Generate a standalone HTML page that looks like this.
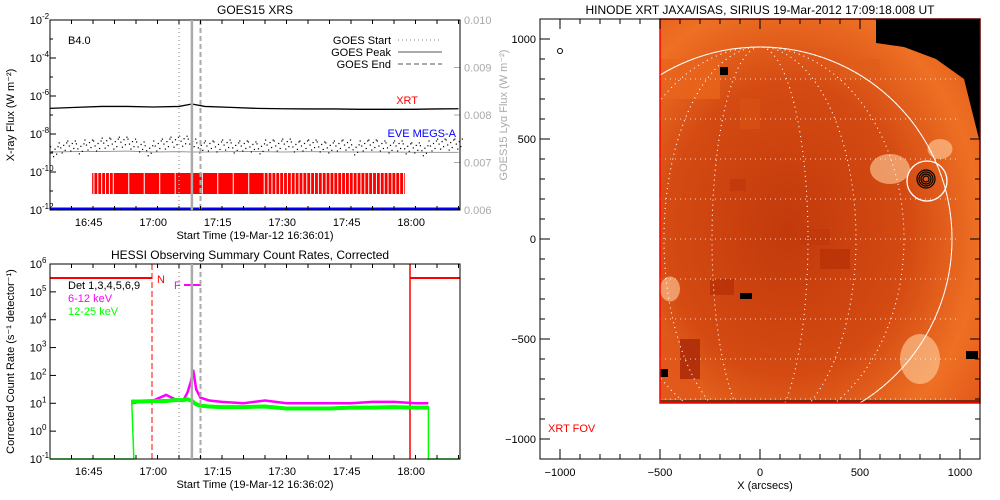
<!DOCTYPE html>
<html><head><meta charset="utf-8"><style>
body{margin:0;background:#fff;width:1000px;height:500px;overflow:hidden}
svg{display:block;font-family:"Liberation Sans",sans-serif}
</style></head><body>
<svg id="s" width="1000" height="500" viewBox="0 0 1000 500"></svg>
<script>
// ---- data ----
const goesTimes=[0,6,12,18,24,30,33,36,42,48,54,60,66,72,78,84,90,95];
const xrtLog=[-6.65,-6.6,-6.55,-6.55,-6.58,-6.55,-6.42,-6.55,-6.6,-6.65,-6.67,-6.68,-6.68,-6.7,-6.7,-6.7,-6.68,-6.67];
const goesLog=[-8.95,-8.92,-8.92,-8.9,-8.95,-8.93,-8.95,-8.95,-8.93,-8.92,-8.95,-8.93,-8.94,-8.95,-8.95,-8.96,-8.97,-8.97];
const eveTimes=[0,2,4,6,8,10,12,14,16,18,20,22,24,26,28,30,32,34,36,38,40,42,44,46,48,50,52,54,56,58,60,62,64,66,68,70,72,74,76,78,80,82,84,86,88,90,92,94];
const eveLog=[-8.9,-8.7,-8.6,-8.75,-8.55,-8.6,-8.45,-8.5,-8.4,-8.5,-8.65,-8.85,-8.6,-8.5,-8.4,-8.35,-8.5,-8.7,-8.6,-8.65,-8.55,-8.7,-8.6,-8.65,-8.75,-8.55,-8.6,-8.5,-8.65,-8.6,-8.55,-8.65,-8.7,-8.6,-8.55,-8.8,-8.6,-8.55,-8.6,-8.7,-8.6,-8.75,-8.7,-8.85,-8.6,-8.5,-8.55,-8.5];
const xrtObsStart=9.8, xrtObsEnd=82.5;
const goesStart=30, goesPeak=33, goesEnd=35;
const xTickLabels=["16:45","17:00","17:15","17:30","17:45","18:00"];
const xTickMin=[9,24,39,54,69,84];
const h612T=[19,21,24,27,29,31,32,32.8,33.3,34,35,37,40,45,50,55,60,65,70,75,80,85,88];
const h612Log=[1.0,1.05,1.1,1.3,1.15,1.1,1.4,1.8,2.2,1.5,1.2,1.1,1.05,1.0,1.1,1.0,1.0,1.0,1.0,1.05,1.05,1.0,1.0];
const h1225T=[19,21,24,27,29,31,32,33,34,35,37,40,45,50,55,60,65,70,75,80,85,88];
const h1225Log=[1.1,1.1,1.12,1.12,1.15,1.15,1.18,1.12,1.0,0.95,0.92,0.9,0.9,0.92,0.85,0.85,0.85,0.88,0.88,0.9,0.88,0.88];
const hessiStart=19.5, hessiEnd=88;
// ---- helpers ----
const NS="http://www.w3.org/2000/svg", S=document.getElementById('s');
function el(t,a,p){const e=document.createElementNS(NS,t);for(const k in a)e.setAttribute(k,a[k]);(p||S).appendChild(e);return e;}
function txt(x,y,s,a,p){const e=el('text',Object.assign({x:x,y:y,'font-size':11},a||{}),p);e.textContent=s;return e;}
function pow(x,y,exp,col,p){const g=el('g',{},p);txt(x-6,y,'10',{'text-anchor':'end','font-size':11,fill:col||'#000'},g);txt(x-6,y-5,exp,{'font-size':8,fill:col||'#000'},g);return g;}
const L=50,R=460;
const tx=m=>L+m*4.3;
// ===== top panel =====
const T1=20,B1=210;
const y1=v=>T1+(-2-v)*(B1-T1)/10;
const g1=el('g',{});


txt(255,14,'GOES15 XRS',{'text-anchor':'middle','font-size':12},g1);
[-2,-4,-6,-8,-10,-12].forEach(v=>{const l=pow(L-2,y1(v)+4,String(v),'#000',g1);});
for(let v=-12;v<=-2;v++){el('line',{x1:L,x2:L+(v%2?3:6),y1:y1(v),y2:y1(v),stroke:'#000'},g1);}
[0.006,0.007,0.008,0.009,0.010].forEach((v,i)=>{const y=B1-i*(B1-T1)/4;txt(R+4,y+4,v.toFixed(3),{fill:'#aaa'},g1);el('line',{x1:R-6,x2:R,y1:y,y2:y,stroke:'#aaa'},g1);});
const t1=txt(0,0,'X-ray Flux (W m⁻²)',{transform:`translate(14,${(T1+B1)/2}) rotate(-90)`,'text-anchor':'middle'},g1);

const t2=txt(0,0,'GOES15 Lyα Flux (W m⁻²)',{transform:`translate(507,${(T1+B1)/2}) rotate(-90)`,'text-anchor':'middle',fill:'#aaa'},g1);

// red xrt obs bars
el('rect',{x:tx(xrtObsStart),y:173,width:tx(xrtObsEnd)-tx(xrtObsStart),height:21,fill:'#f00'},g1);
for(let m=xrtObsStart+0.3;m<xrtObsEnd;m+=0.9){if(Math.floor(m*7)%5===2||m<14||m>50)el('rect',{x:tx(m),y:173,width:1,height:21,fill:'#fff'},g1);}
const xrtL=el('polyline',{points:goesTimes.map((t,i)=>tx(t)+','+y1(xrtLog[i])).join(' '),fill:'none',stroke:'#000','stroke-width':1.3},g1);

const gl=el('polyline',{points:goesTimes.map((t,i)=>tx(t)+','+y1(goesLog[i])).join(' '),fill:'none',stroke:'#999'},g1);

eveTimes.forEach((t,i)=>{for(let k=0;k<6;k++){el('rect',{x:tx(t)+k*1.5,y:y1(eveLog[i])+((k*7)%5-2)*2.5,width:1.2,height:1.2,fill:'#000'},g1);}});
el('line',{x1:L,x2:R,y1:B1-1,y2:B1-1,stroke:'#00f','stroke-width':3},g1);
txt(418,104,'XRT',{fill:'#f00','text-anchor':'end'},g1);
txt(456,137,'EVE MEGS-A',{fill:'#00f','text-anchor':'end'},g1);
txt(68,44,'B4.0',{},g1);
[['GOES Start','1,3',1.5],['GOES Peak','',2],['GOES End','5,3',2]].forEach((d,i)=>{const y=44+i*12;txt(391,y,d[0],{'text-anchor':'end'},g1);el('line',{x1:398,x2:442,y1:y-4,y2:y-4,stroke:'#aaa','stroke-width':d[2],'stroke-dasharray':d[1]},g1);});
// ===== bottom panel =====
const T2=264,B2=459;
const y2=v=>T2+(6-v)*(B2-T2)/7;
const g2=el('g',{});


txt(250,259,'HESSI Observing Summary Count Rates, Corrected',{'text-anchor':'middle','font-size':12},g2);
[6,5,4,3,2,1,0,-1].forEach(v=>pow(L-2,y2(v)+4,String(v),'#000',g2));
for(let v=-1;v<=6;v++)el('line',{x1:L,x2:L+6,y1:y2(v),y2:y2(v),stroke:'#000'},g2);
const t3=txt(0,0,'Corrected Count Rate (s⁻¹ detector⁻¹)',{transform:`translate(14,${(T2+B2)/2}) rotate(-90)`,'text-anchor':'middle'},g2);

el('polyline',{points:`${L},278 152,278`,fill:'none',stroke:'#f00','stroke-width':2},g2);
el('polyline',{points:`410,278 ${R},278`,fill:'none',stroke:'#f00','stroke-width':2},g2);
el('line',{x1:152,x2:152,y1:T2,y2:B2,stroke:'#f00','stroke-dasharray':'6,3'},g2);
el('line',{x1:410,x2:410,y1:T2,y2:B2,stroke:'#f00','stroke-width':1.5},g2);
el('line',{x1:L,x2:L,y1:T2,y2:B2,stroke:'#f00'},g2);
el('line',{x1:R,x2:R,y1:T2,y2:B2,stroke:'#f00','stroke-dasharray':'6,3'},g2);
txt(157,283,'N',{fill:'#f00'},g2);
txt(174,289,'F',{fill:'#f0f'},g2);
el('line',{x1:184,x2:201,y1:285,y2:285,stroke:'#f0f','stroke-width':2},g2);
txt(68,289,'Det 1,3,4,5,6,9',{},g2);
txt(68,302,'6-12 keV',{fill:'#f0f'},g2);
txt(68,315,'12-25 keV',{fill:'#0f0'},g2);
const mline=el('polyline',{points:h612T.map((t,i)=>tx(t)+','+y2(h612Log[i])).join(' '),fill:'none',stroke:'#f0f','stroke-width':2.5},g2);

const gp=[[L,y2(-1)],[tx(hessiStart),y2(-1)]].concat(h1225T.map((t,i)=>[tx(t),y2(h1225Log[i])])).concat([[tx(hessiEnd),y2(-1)],[R,y2(-1)]]);
const gline=el('polyline',{points:gp.map(p=>p.join(',')).join(' '),fill:'none',stroke:'#0f0','stroke-width':1.5},g2);

el('polyline',{points:h1225T.map((t,i)=>tx(t)+','+(y2(h1225Log[i])+1)).join(' '),fill:'none',stroke:'#0f0','stroke-width':4},g2);
// shared time axes and flare lines
[[T1,B1,'16:36:01'],[T2,B2,'16:36:02']].forEach(([T,B,st])=>{
  el('rect',{x:L,y:T,width:R-L,height:B-T,fill:'none',stroke:'#000'});
  [[goesStart,'1,3',1.5],[goesPeak,'',2.5],[goesEnd,'5,3',2]].forEach(d=>el('line',{x1:tx(d[0]),x2:tx(d[0]),y1:T,y2:B,stroke:'#aaa','stroke-width':d[2],'stroke-dasharray':d[1]}));
  for(let m=4;m<95;m+=5){const x=tx(m+1);const big=xTickMin.includes(m+1);el('line',{x1:x,x2:x,y1:B,y2:B-(big?8:4),stroke:'#000'});el('line',{x1:x,x2:x,y1:T,y2:T+(big?8:4),stroke:'#000'});}
  xTickLabels.forEach((l,i)=>txt(tx(xTickMin[i]),B+16,l,{'text-anchor':'middle'}));
  txt(255,B+29,'Start Time (19-Mar-12 '+st+')',{'text-anchor':'middle'});
});
// ===== right image panel =====
const XL=540,XR=980,YT=19,YB=459;
const ax=v=>760+v*0.2, ay=v=>239-v*0.2;
const g3=el('g',{});


txt(760,14,'HINODE XRT JAXA/ISAS, SIRIUS 19-Mar-2012 17:09:18.008 UT',{'text-anchor':'middle','font-size':12},g3);
const defs=el('defs',{},g3);
const rg=el('radialGradient',{id:'sun',cx:'0.4',cy:'0.55',r:'0.75'},defs);
el('stop',{offset:'0','stop-color':'#c23a0c'},rg);el('stop',{offset:'0.5','stop-color':'#d44a12'},rg);el('stop',{offset:'0.8','stop-color':'#ee7024'},rg);el('stop',{offset:'1','stop-color':'#e4581a'},rg);
const img=el('rect',{x:ax(-500),y:YT,width:ax(1100)-ax(-500),height:ay(-820)-YT,fill:'url(#sun)'},g3);

[[-150,300,80,60,'#c03a0c'],[-250,-200,120,80,'#b83008'],[200,50,150,80,'#c03a0c'],[-100,700,100,150,'#d85014'],[400,900,200,100,'#e05c1a'],[-500,900,300,200,'#e8641c'],[-500,-500,200,300,'#e0561a'],[-400,-500,100,200,'#a82806'],[300,-50,150,100,'#b83208']].forEach(b=>el('rect',{x:ax(b[0]),y:ay(b[1]),width:b[2]*0.2,height:b[3]*0.2,fill:b[4],opacity:0.8},g3));
[[650,350,40,30],[800,-600,40,50],[900,450,25,20],[-450,-250,20,25]].forEach(b=>el('ellipse',{cx:ax(b[0]),cy:ay(b[1]),rx:b[2]*0.5,ry:b[3]*0.5,fill:'#ffd0a0',opacity:0.6},g3));
el('polygon',{points:`${ax(580)},${YT} ${XR},${YT} ${XR},${ay(480)} ${ax(1020)},${ay(800)} ${ax(880)},${ay(900)} ${ax(720)},${ay(960)} ${ax(580)},${ay(980)}`,fill:'#000'},g3);
[[-200,860,40,40],[-500,-650,40,40],[1030,-560,60,40],[-100,-270,60,30]].forEach(b=>el('rect',{x:ax(b[0]),y:ay(b[1]),width:b[2]*0.2,height:b[3]*0.2,fill:'#000'},g3));
el('rect',{x:ax(-500),y:ay(-820)-3,width:ax(1100)-ax(-500),height:3,fill:'#000',opacity:0.5},g3);
const cp=el('clipPath',{id:'fov'},defs);el('rect',{x:ax(-500),y:YT,width:ax(1100)-ax(-500),height:ay(-820)-YT},cp);
const grid=el('g',{'clip-path':'url(#fov)'},g3);
for(let k=-4;k<=4;k++){el('line',{x1:ax(-1000),x2:ax(1000),y1:ay(k*200),y2:ay(k*200),stroke:'#fff','stroke-width':1,'stroke-dasharray':'1,4',opacity:0.8},grid);el('ellipse',{cx:ax(0),cy:ay(0),rx:Math.abs(k)*0.2*240,ry:192,fill:'none',stroke:'#fff','stroke-dasharray':'1,4',opacity:0.8},grid);}
el('circle',{cx:ax(0),cy:ay(0),r:192,fill:'none',stroke:'#fff','stroke-width':1},grid);
el('circle',{cx:ax(835),cy:ay(290),r:20,fill:'none',stroke:'#fff','stroke-width':1.3},g3);
[3,5,7,9].forEach(r=>el('circle',{cx:ax(830),cy:ay(300),r:r,fill:'none',stroke:'#000','stroke-width':1.2},g3));
el('rect',{x:ax(-500),y:YT,width:ax(1100)-ax(-500),height:ay(-820)-YT,fill:'none',stroke:'#f00','stroke-width':1.5},g3);
el('rect',{x:XL,y:YT,width:XR-XL,height:YB-YT,fill:'none',stroke:'#000'},g3);
el('circle',{cx:ax(-1000),cy:ay(940),r:2.5,fill:'none',stroke:'#000'},g3);
txt(548,432,'XRT FOV',{fill:'#f00'},g3);
[-1000,-500,0,500,1000].forEach(v=>{txt(ax(v),476,String(v).replace('-','−'),{'text-anchor':'middle'},g3);txt(XL-4,ay(v)+4,String(v).replace('-','−'),{'text-anchor':'end'},g3);});
for(let v=-1000;v<=1000;v+=100){const big=v%500===0;el('line',{x1:ax(v),x2:ax(v),y1:YB,y2:YB-(big?10:5),stroke:'#000'},g3);el('line',{x1:ax(v),x2:ax(v),y1:YT,y2:YT+(big?10:5),stroke:'#000'},g3);el('line',{x1:XL,x2:XL+(big?10:5),y1:ay(v),y2:ay(v),stroke:'#000'},g3);el('line',{x1:XR,x2:XR-(big?10:5),y1:ay(v),y2:ay(v),stroke:'#000'},g3);}
txt(765,489,'X (arcsecs)',{'text-anchor':'middle'},g3);
</script>
</body></html>
